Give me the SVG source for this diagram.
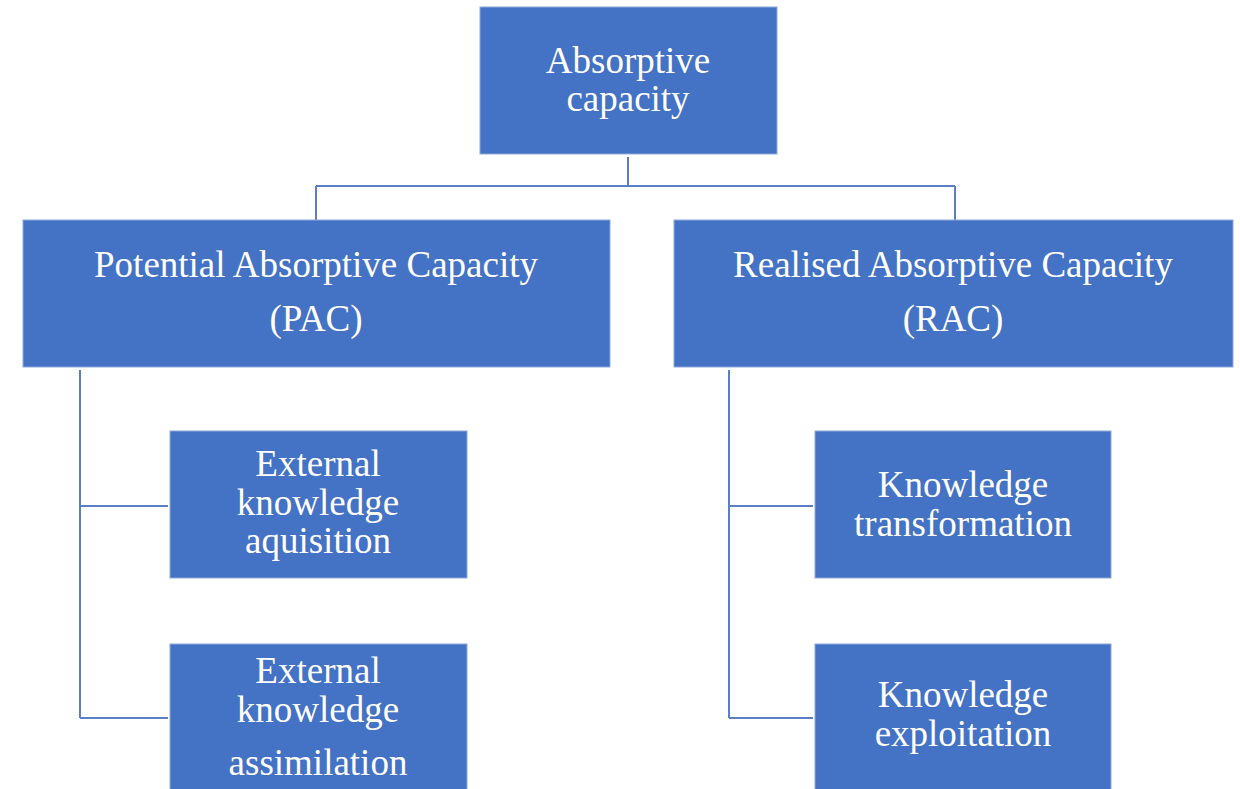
<svg xmlns="http://www.w3.org/2000/svg" width="1240" height="789" viewBox="0 0 1240 789">
<style>
.box{fill:#4472C4;stroke:#8EA9DB;stroke-width:1}
.t{font-family:"Liberation Serif","Times New Roman",serif;font-size:37px;fill:#ffffff;text-anchor:middle}
.c{fill:none;stroke:#5B7FC6;stroke-width:2}
</style>
<rect width="1240" height="789" fill="#ffffff"/>
<g id="connectors">
<path class="c" d="M628,157 V186 M316,186 H955 M316,186 V220 M955,186 V220"/>
<path class="c" d="M80,370 V718 M80,506 H168 M80,718 H168"/>
<path class="c" d="M729,370 V718 M729,506 H813 M729,718 H813"/>
</g>
<g id="node-absorptive">
<rect class="box" x="480" y="7" width="297" height="147"/>
<text class="t" x="628" y="73">Absorptive</text>
<text class="t" x="628" y="111">capacity</text>
</g>
<g id="node-pac">
<rect class="box" x="23" y="220" width="587" height="147"/>
<text class="t" x="316" y="277">Potential Absorptive Capacity</text>
<text class="t" x="316" y="331">(PAC)</text>
</g>
<g id="node-rac">
<rect class="box" x="674" y="220" width="559" height="147"/>
<text class="t" x="953" y="277">Realised Absorptive Capacity</text>
<text class="t" x="953" y="331">(RAC)</text>
</g>
<g id="node-acquisition">
<rect class="box" x="170" y="431" width="297" height="147"/>
<text class="t" x="318" y="476">External</text>
<text class="t" x="318" y="515">knowledge</text>
<text class="t" x="318" y="553">aquisition</text>
</g>
<g id="node-assimilation">
<rect class="box" x="170" y="644" width="297" height="150"/>
<text class="t" x="318" y="683">External</text>
<text class="t" x="318" y="722">knowledge</text>
<text class="t" x="318" y="775">assimilation</text>
</g>
<g id="node-transformation">
<rect class="box" x="815" y="431" width="296" height="147"/>
<text class="t" x="963" y="497">Knowledge</text>
<text class="t" x="963" y="536">transformation</text>
</g>
<g id="node-exploitation">
<rect class="box" x="815" y="644" width="296" height="150"/>
<text class="t" x="963" y="707">Knowledge</text>
<text class="t" x="963" y="746">exploitation</text>
</g>
</svg>
